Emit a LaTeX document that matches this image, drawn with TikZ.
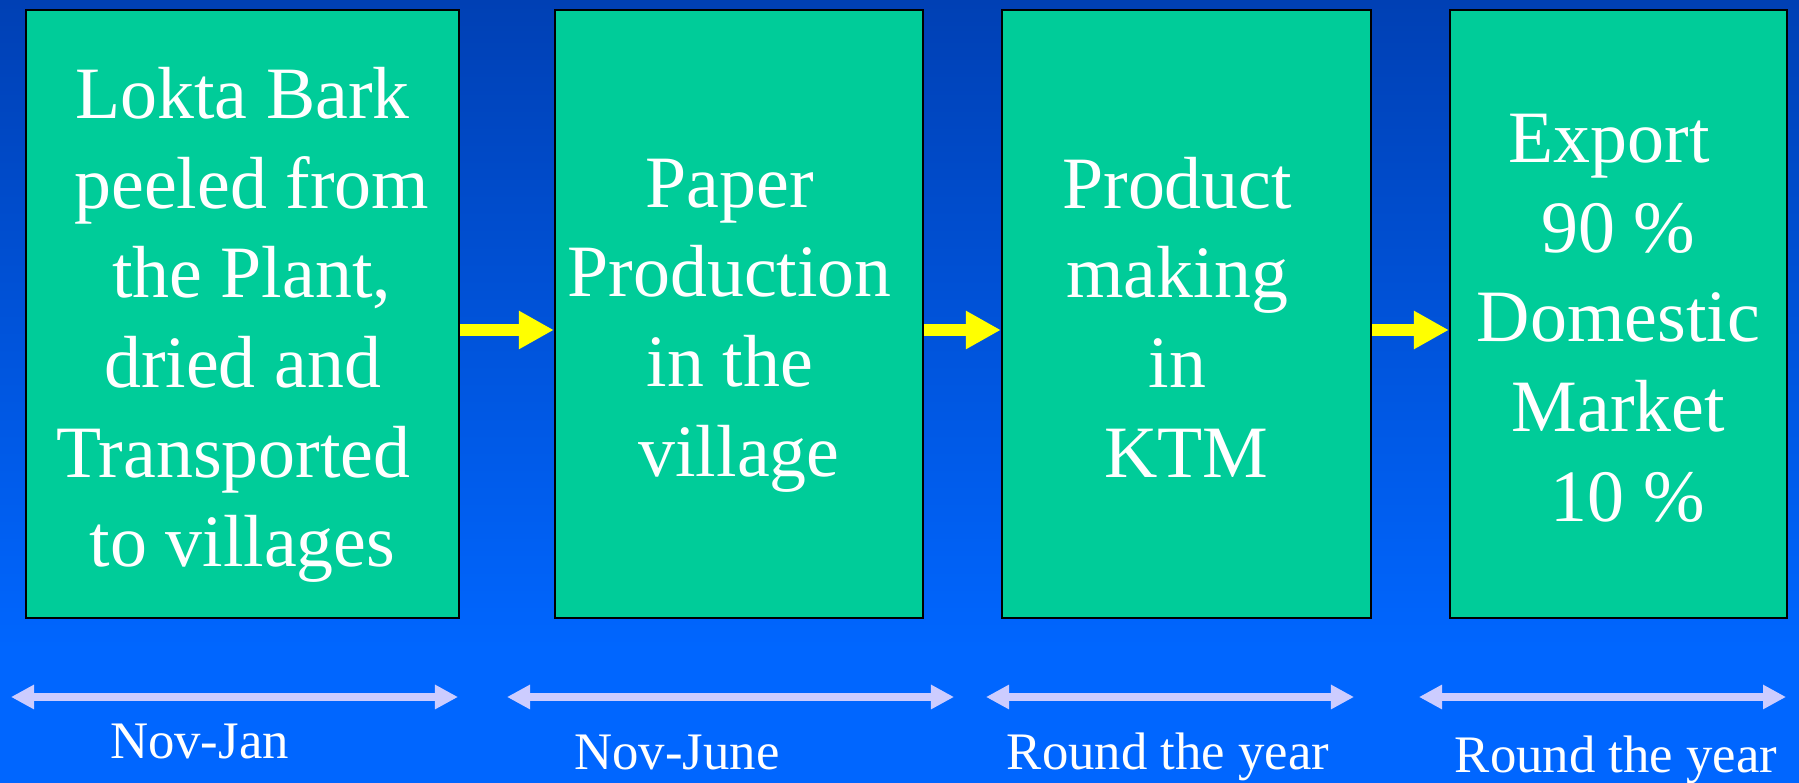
\documentclass[tikz,border=0pt]{standalone}
\usepackage{fontspec}
\setmainfont{Liberation Serif}
\usetikzlibrary{positioning, arrows.meta, calc}
\definecolor{bgtop}{RGB}{0, 64, 180}
\definecolor{bgbottom}{RGB}{0, 102, 255}
\definecolor{boxgreen}{RGB}{0, 204, 153}
\definecolor{spanlilac}{RGB}{204, 204, 255}
\definecolor{flowyellow}{RGB}{255, 255, 0}
\newcommand{\lsp}{\makebox[0.25em]{}}
\tikzset{
    stepbox/.style={
        draw=black, line width=0.6pt, fill=boxgreen, minimum height=6.08cm, inner sep=0pt
    },
    steptext/.style={
        text=white, align=center, inner sep=0pt, font=\fontsize{21}{25.5}\selectfont
    },
    flowarrow/.style={
        -{Triangle[length=0.35cm, width=0.36cm]}, line width=0.12cm, flowyellow
    },
    spanarrow/.style={
        {Triangle[length=0.23cm, width=0.23cm]}-{Triangle[length=0.23cm, width=0.23cm]},
        line width=0.08cm, spanlilac
    },
    spanlabel/.style={
        text=white, anchor=base, inner sep=0pt, font=\fontsize{15}{18}\selectfont
    }
}
\begin{document}
\begin{tikzpicture}[x=0.01cm, y=-0.01cm]
    \useasboundingbox (0,0) rectangle (1799,783);

    % --- 1. NỀN ---
    \shade[top color=bgtop, bottom color=bgbottom] (0,0) rectangle (1799,650);
    \fill[bgbottom] (0,650) rectangle (1799,783);

    % --- 2. CÁC KHỐI ---
    \node[stepbox, minimum width=4.33cm] (b1) at (242.5,314) {};
    \node[stepbox, minimum width=3.68cm] (b2) at (739,314) {};
    \node[stepbox, minimum width=3.69cm] (b3) at (1186.5,314) {};
    \node[stepbox, minimum width=3.37cm] (b4) at (1618.5,314) {};

    \node[steptext] (t1) at (242.5,325) {Lokta Bark\\ \lsp peeled from\\ \lsp the Plant,\\
        dried and\\ Transported\lsp\\ to villages};
    \node[steptext] (t2) at (739,325.5) {Paper\lsp\\ Production\lsp\\ in the\lsp\\ village};
    \node[steptext] (t3) at (1186.5,317) {Product\lsp\\ making\lsp\\ in\lsp\\ KTM};
    \node[steptext] (t4) at (1618.5,318) {Export\lsp\\ 90 \%\\ Domestic\\ Market\\ \lsp 10 \%};

    % --- 3. MŨI TÊN VÀNG ---
    \draw[flowarrow] ([yshift=-0.16cm]b1.east) -- ([yshift=-0.16cm]b2.west);
    \draw[flowarrow] ([yshift=-0.16cm]b2.east) -- ([yshift=-0.16cm]b3.west);
    \draw[flowarrow] ([yshift=-0.16cm]b3.east) -- ([yshift=-0.16cm]b4.west);

    % --- 4. KHOẢNG THỜI GIAN ---
    \coordinate (s1l) at (11,697);   \coordinate (s1r) at (458,697);
    \coordinate (s2l) at (507,697);  \coordinate (s2r) at (954,697);
    \coordinate (s3l) at (986,697);  \coordinate (s3r) at (1354,697);
    \coordinate (s4l) at (1419,697); \coordinate (s4r) at (1786,697);
    \draw[spanarrow] (s1l) -- (s1r);
    \draw[spanarrow] (s2l) -- (s2r);
    \draw[spanarrow] (s3l) -- (s3r);
    \draw[spanarrow] (s4l) -- (s4r);

    \node[spanlabel] (l1) at (199.5,759) {Nov-Jan};
    \node[spanlabel] (l2) at (677,770) {Nov-June};
    \node[spanlabel] (l3) at (1168,770) {Round the year};
    \node[spanlabel] (l4) at (1616,773) {Round the year};
\end{tikzpicture}
\end{document}
